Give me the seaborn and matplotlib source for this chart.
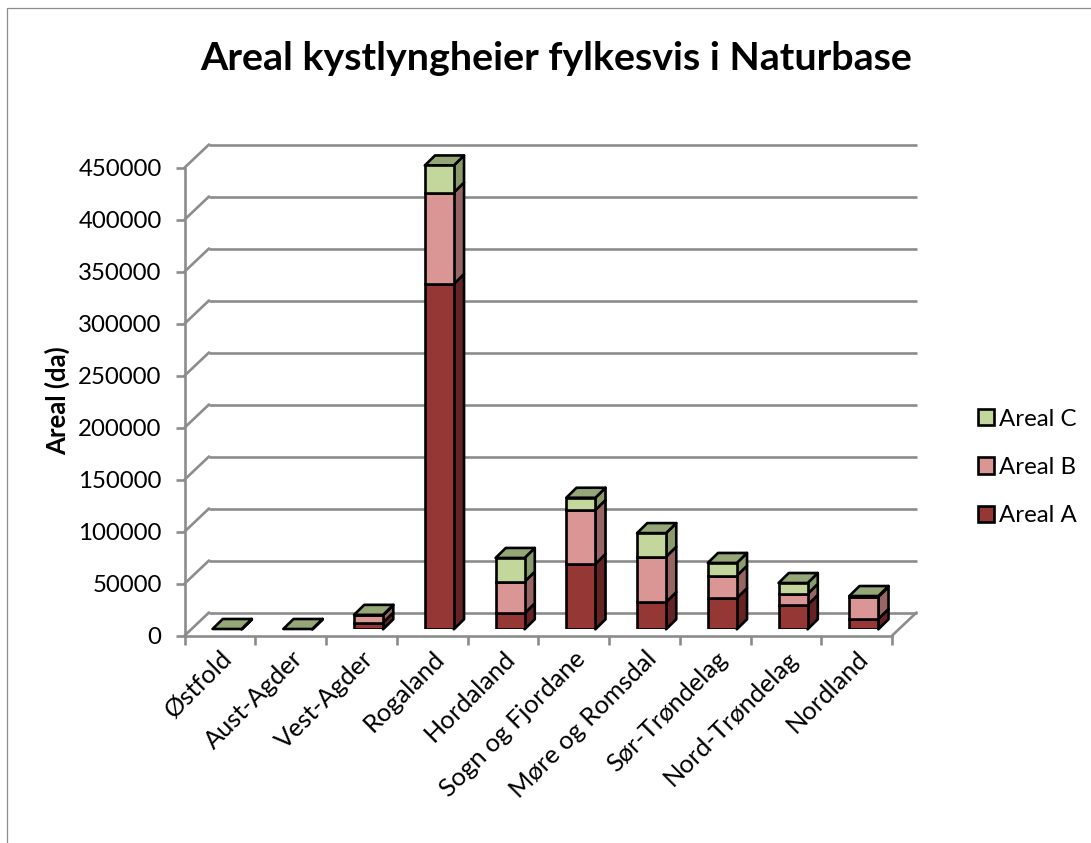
import numpy as np
import matplotlib
matplotlib.use("Agg")
import matplotlib.pyplot as plt
from matplotlib.patches import Patch, Polygon, Rectangle
import seaborn as sns

counties = ["Østfold", "Aust-Agder", "Vest-Agder", "Rogaland", "Hordaland",
            "Sogn og Fjordane", "Møre og Romsdal", "Sør-Trøndelag",
            "Nord-Trøndelag", "Nordland"]
areal_a = [100, 100, 6500, 332000, 15400, 62800, 26200, 30000, 23400, 9900]
areal_b = [100, 100, 7000, 88000, 30400, 51900, 43600, 21500, 10600, 21400]
areal_c = [100, 100, 400, 26000, 22800, 11800, 22700, 12300, 10500, 700]
series_names = ["Areal A", "Areal B", "Areal C"]
front_colors = ["#953735", "#D99694", "#C3D69B"]
side_colors = ["#632423", "#976664", "#8A9A6B"]
top_color = "#95A677"
y_ticks = list(range(0, 450001, 50000))

GRID = "#8C8C8C"
W, H = 1091, 843
LW = 1.9
sns.set_theme(style="white")
plt.rcParams["font.family"] = ["Lato", "DejaVu Sans"]

fig = plt.figure(figsize=(W / 100, H / 100), dpi=100, facecolor="white")

def box(l, t, r, b):
    return [l / W, 1 - b / H, (r - l) / W, (b - t) / H]

fig.add_artist(Rectangle((7 / W, -0.1), 1.2, 1.1 - 8 / H, transform=fig.transFigure,
                         fill=False, edgecolor="#8C8C8C", linewidth=0.9))

# front plane of the chart box: axes and tick labels
ax = fig.add_axes(box(184.5, 167.7, 892, 635.7))
ax.set_xlim(-0.5, 9.5)
ax.set_ylim(0, 450000)
ax.patch.set_alpha(0)
for s in ["top", "right"]:
    ax.spines[s].set_visible(False)
for s in ["left", "bottom"]:
    ax.spines[s].set_color(GRID)
    ax.spines[s].set_linewidth(LW)
px_x = 10 / (892 - 184.5)
px_y = 450000 / (635.7 - 167.7)
DX, DY = 24.5 * px_x, 23.2 * px_y

for v in y_ticks:
    ax.plot([-0.5 + DX, 9.5 + DX], [v + DY, v + DY], color=GRID, lw=LW,
            clip_on=False, solid_capstyle="butt", zorder=1)
    ax.plot([-0.5, -0.5 + DX], [v, v + DY], color=GRID, lw=LW, clip_on=False, zorder=1)
ax.plot([9.5, 9.5 + DX], [0, DY], color=GRID, lw=LW, clip_on=False, zorder=1)

ax.set_yticks(y_ticks, [str(v) for v in y_ticks], fontsize=17.3)
ax.tick_params(axis="y", left=True, length=6.5, width=LW, color=GRID, pad=10, labelcolor="black")
ax.set_xticks(np.arange(-0.5, 10, 1), [""] * 11)
ax.tick_params(axis="x", which="major", bottom=True, length=6.5, width=LW, color=GRID)
ax.set_xticks(np.arange(10), counties, minor=True, rotation=45,
              ha="right", rotation_mode="anchor")
ax.tick_params(axis="x", which="minor", bottom=False, length=0, pad=8, labelcolor="black")
for lab in ax.get_xticklabels(minor=True):
    lab.set_fontsize(18.3)

# bars stand a little way into the box
bx = fig.add_axes(box(184.5 + 7.2, 167.7 - 6.4, 892 + 7.2, 635.7 - 6.4))
bx.patch.set_alpha(0)
series = [np.array(areal_a, float), np.array(areal_b, float), np.array(areal_c, float)]
bottoms = [np.zeros(10), series[0], series[0] + series[1]]
BW = 0.41
for vals, bot, col in zip(series, bottoms, front_colors):
    sns.barplot(x=counties, y=vals, bottom=bot, order=counties, color=col, saturation=1,
                width=BW, edgecolor="black", linewidth=LW, ax=bx, zorder=3)
bx.set_xlim(-0.5, 9.5)
bx.set_ylim(0, 450000)
bx.axis("off")
dx, dy = 10.2 * px_x, 10 * px_y

def face(points, color):
    bx.add_patch(Polygon(points, closed=True, facecolor=color, edgecolor="black",
                         linewidth=LW, joinstyle="round", clip_on=False, zorder=2.5))

for i in range(10):
    right = i + BW / 2
    left = i - BW / 2
    for vals, bot, col in zip(series, bottoms, side_colors):
        y0, y1 = bot[i], bot[i] + vals[i]
        face([(right, y0), (right + dx, y0 + dy), (right + dx, y1 + dy), (right, y1)], col)
    top = bottoms[2][i] + series[2][i]
    face([(left, top), (right, top), (right + dx, top + dy), (left + dx, top + dy)], top_color)

# legend
handles = [Patch(facecolor=c, edgecolor="black", linewidth=LW, label=n)
           for c, n in zip(front_colors[::-1], series_names[::-1])]
fig.legend(handles=handles, loc="center left", bbox_to_anchor=(970.5 / W, 1 - 467.5 / H),
           frameon=False, fontsize=17.3, handlelength=0.66, handleheight=0.66,
           handletextpad=0.22, labelspacing=1.14, borderpad=0.3, borderaxespad=0,
           labelcolor="black")

fig.text(556 / W, 1 - 58 / H, "Areal kystlyngheier fylkesvis i Naturbase", fontsize=28.4,
         fontweight="bold", ha="center", va="center", color="black")
fig.text(57 / W, 1 - 401 / H, "Areal (da)", fontsize=18.5, fontweight="bold", rotation=90,
         ha="center", va="center", color="black")

fig.savefig("out.png", dpi=100)
